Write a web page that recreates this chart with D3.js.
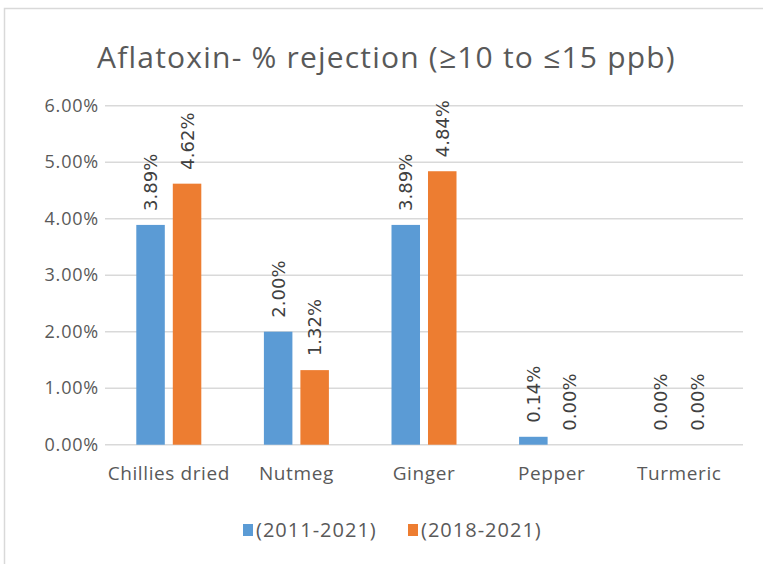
<!DOCTYPE html>
<html>
<head>
<meta charset="utf-8">
<script src="https://cdn.jsdelivr.net/npm/d3@7"></script>
<style>
  body { margin: 0; background: #fff; }
  svg { display: block; }
</style>
</head>
<body>
<svg id="chart" width="763" height="564"></svg>
<script>
const categories = ["Chillies dried", "Nutmeg", "Ginger", "Pepper", "Turmeric"];
const seriesNames = ["(2011-2021)", "(2018-2021)"];
const values2011 = [0.0389, 0.0200, 0.0389, 0.0014, 0.0000];
const values2018 = [0.0462, 0.0132, 0.0484, 0.0000, 0.0000];
const yTicks = [0, 0.01, 0.02, 0.03, 0.04, 0.05, 0.06];
const colors = ["#5b9bd5", "#ed7d31"];

const svg = d3.select('#chart');
const width = 763, height = 564;
const margin = { top: 105.7, right: 20, bottom: 119.3, left: 105 };
const innerW = 743 - margin.left;
const innerH = 444.7 - margin.top;

// chart border
svg.append('rect')
    .attr('x', 4.5).attr('y', 8.5)
    .attr('width', width + 20).attr('height', height + 20)
    .style('fill', 'none')
    .style('stroke', '#d9d9d9')
    .style('stroke-width', 1.5);

svg.append('text')
    .attr('x', 386.5).attr('y', 68)
    .attr('text-anchor', 'middle')
    .style('font-family', 'Open Sans')
    .style('font-size', '30px')
    .style('letter-spacing', '1.2px')
    .style('fill', '#595959')
    .text('Aflatoxin- % rejection (≥10 to ≤15 ppb)');

const g = svg.append('g')
    .attr('transform', `translate(${margin.left},${margin.top})`);

const x0 = d3.scaleBand().domain(categories).range([0, innerW]).padding(0);
const groupW = 65;
const x1 = d3.scaleBand().domain(seriesNames).range([0, groupW]).paddingInner(0.219).paddingOuter(0);
const yScale = d3.scaleLinear().domain([0, 0.06]).range([innerH, 0]);

// gridlines
g.append('g')
    .selectAll('line')
    .data(yTicks)
    .enter()
    .append('line')
    .attr('x1', 0).attr('x2', innerW)
    .attr('y1', d => yScale(d)).attr('y2', d => yScale(d))
    .style('stroke', '#d9d9d9')
    .style('stroke-width', 1.5);

// y axis labels
const yAxis = g.append('g')
    .call(d3.axisLeft(yScale).tickValues(yTicks).tickFormat(d3.format('.2%')).tickSize(0).tickPadding(6));
yAxis.select('.domain').remove();
yAxis.selectAll('text')
    .style('font-family', 'Open Sans')
    .style('font-size', '18px')
    .style('letter-spacing', '0.8px')
    .style('fill', '#595959');

// x axis labels
const xAxis = g.append('g')
    .attr('transform', `translate(0,${innerH})`)
    .call(d3.axisBottom(x0).tickSize(0).tickPadding(22));
xAxis.select('.domain').remove();
xAxis.selectAll('text')
    .style('font-family', 'Open Sans')
    .style('font-size', '19px')
    .style('letter-spacing', '0.6px')
    .style('fill', '#595959');

const rows = categories.map((c, i) => ({ cat: c, vals: [values2011[i], values2018[i]] }));

const groups = g.selectAll('.grp')
    .data(rows)
    .enter()
    .append('g')
    .attr('class', 'grp')
    .attr('transform', d => `translate(${x0(d.cat) + (x0.bandwidth() - groupW) / 2},0)`);

groups.selectAll('rect')
    .data(d => d.vals.map((v, k) => ({ name: seriesNames[k], v: v, k: k })))
    .enter()
    .append('rect')
    .attr('x', d => x1(d.name))
    .attr('width', x1.bandwidth())
    .attr('y', d => yScale(d.v))
    .attr('height', d => innerH - yScale(d.v))
    .style('fill', d => colors[d.k]);

groups.selectAll('.val')
    .data(d => d.vals.map((v, k) => ({ name: seriesNames[k], v: v, k: k })))
    .enter()
    .append('text')
    .attr('class', 'val')
    .attr('transform', d => `translate(${x1(d.name) + x1.bandwidth() / 2},${yScale(d.v) - 14}) rotate(-90)`)
    .attr('dy', '0.36em')
    .style('font-family', 'DejaVu Sans')
    .style('font-size', '18px')
    .style('fill', '#404040')
    .text(d => d3.format('.2%')(d.v));

// legend
const legend = svg.append('g').attr('transform', 'translate(243,530)');
const items = legend.selectAll('g')
    .data(seriesNames)
    .enter()
    .append('g')
    .attr('transform', (d, i) => `translate(${i * 165},0)`);
items.append('rect')
    .attr('x', 0).attr('y', -6)
    .attr('width', 10).attr('height', 12)
    .style('fill', (d, i) => colors[i]);
items.append('text')
    .attr('x', 13).attr('dy', '0.36em')
    .style('font-family', 'Open Sans')
    .style('font-size', '20px')
    .style('letter-spacing', '1px')
    .style('fill', '#595959')
    .text(d => d);
</script>
</body>
</html>
